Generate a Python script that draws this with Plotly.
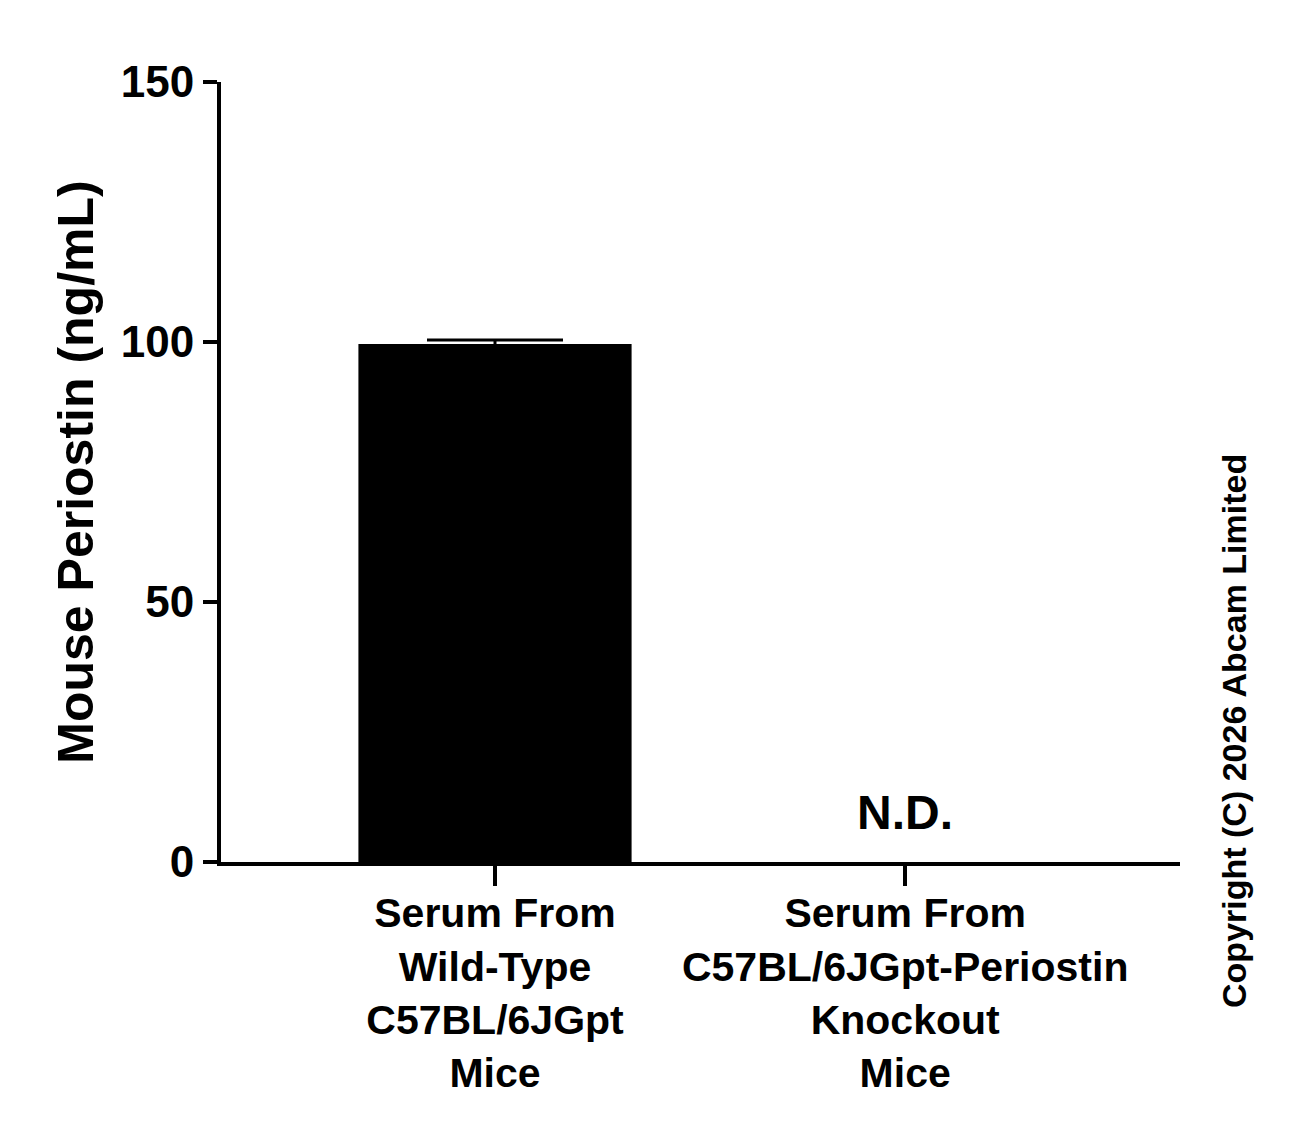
import plotly.graph_objects as go

# data
groups = [
    "Serum From<br>Wild-Type<br>C57BL/6JGpt<br>Mice",
    "Serum From<br>C57BL/6JGpt-Periostin<br>Knockout<br>Mice",
]
periostin = [99.6, None]   # knockout: not detected
periostin_err = [0.8, None]
nd_label = "N.D."

font_family = "Liberation Sans, Arial, sans-serif"

fig = go.Figure()
fig.add_trace(go.Bar(
    x=groups,
    y=periostin,
    width=0.666,
    marker=dict(color="black", line=dict(width=0)),
    error_y=dict(type="data", array=periostin_err, visible=True,
                 color="black", thickness=3, width=68),
))

fig.add_annotation(x=groups[1], y=9.5, text=nd_label, showarrow=False,
                   font=dict(size=48, color="black", family=font_family, weight="bold"))

fig.add_annotation(xref="paper", yref="paper", x=1.0563, y=0.168,
                   xanchor="center", yanchor="middle",
                   text="Copyright (C) 2026 Abcam Limited", textangle=-90,
                   showarrow=False,
                   font=dict(size=34, color="black", family=font_family, weight="bold"))

fig.update_layout(
    width=1314, height=1128,
    margin=dict(l=213, r=142, t=74, b=274),
    paper_bgcolor="white", plot_bgcolor="white",
    showlegend=False,
    font=dict(family=font_family, color="black", weight="bold"),
    xaxis=dict(
        range=[-0.668, 1.67],
        showline=True, linecolor="black", linewidth=4,
        ticks="outside", ticklen=20, tickwidth=4, tickcolor="black",
        tickfont=dict(size=41, weight="bold"),
        ticklabelstandoff=-8,
        showgrid=False, zeroline=False,
    ),
    yaxis=dict(
        range=[0, 150],
        tickvals=[0, 50, 100, 150],
        showline=True, linecolor="black", linewidth=4,
        ticks="outside", ticklen=14, tickwidth=4, tickcolor="black",
        tickfont=dict(size=44, weight="bold"),
        showgrid=False, zeroline=False,
        title=dict(text="Mouse Periostin (ng/mL)",
                   font=dict(size=50, weight="bold"), standoff=12),
    ),
)

fig.write_html("out.html")
